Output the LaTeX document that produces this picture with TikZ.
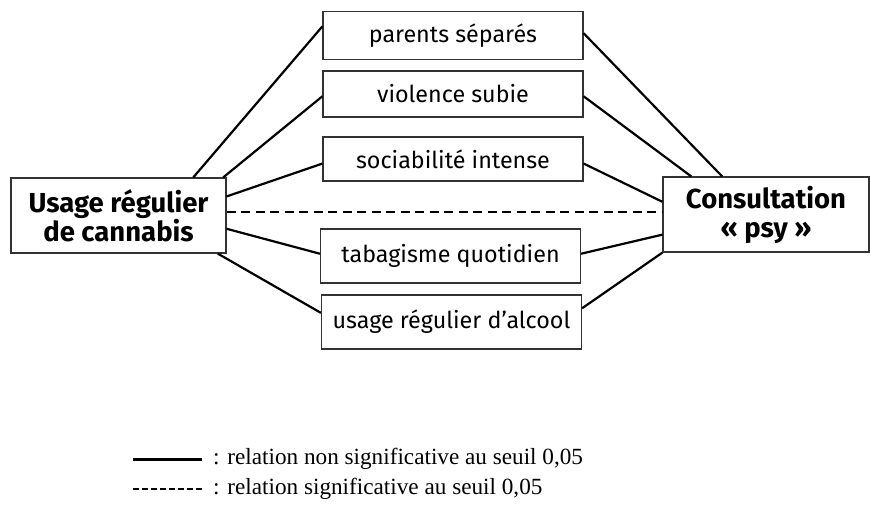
\documentclass[tikz,border=0pt]{standalone}
\usepackage{fontspec}
\setmainfont{Liberation Serif}
\setsansfont{Fira Sans}
\usetikzlibrary{positioning}

\tikzset{
  facteur/.style={draw=black!80, line width=1.2pt, minimum width=260pt,
    minimum height=48pt, inner sep=0pt, font=\sffamily\fontsize{23.3}{27}\selectfont},
  pole/.style={draw=black!80, line width=1.2pt, minimum height=75pt,
    inner sep=0pt, align=center, font=\sffamily\bfseries\fontsize{27.5}{29}\selectfont},
  lien/.style={line width=2.2pt},
  liensig/.style={line width=2.2pt, dash pattern=on 9pt off 5.5pt},
  legende/.style={inner sep=0pt, font=\fontsize{23.2}{26}\selectfont}
}

\begin{document}
\begin{tikzpicture}[x=1pt,y=-1pt]
  \useasboundingbox (0,0) rectangle (870,523);

  %--- the two poles ---
  \node[pole, minimum width=215pt] (cannabis) at (118.5,215.5) {Usage régulier\\de cannabis};
  \node[pole, minimum width=206pt] (psy)      at (766,214.5)   {Consultation\\«~psy~»};

  %--- intermediate factors ---
  \node[facteur]                     (parents)  at (453,35.5)  {parents séparés};
  \node[facteur, minimum height=46pt] (violence) at (453,94)    {violence subie};
  \node[facteur, minimum height=44pt] (sociab)   at (453,159)   {sociabilité intense};
  \node[facteur, minimum height=54pt] (tabac)    at (450.5,256) {tabagisme quotidien};
  \node[facteur, minimum height=54pt] (alcool)   at (451.5,322) {usage régulier d’alcool};

  %--- links, left side ---
  \draw[lien] (cannabis.27)  -- (parents.176);
  \draw[lien] (cannabis.20)  -- (violence.181);
  \draw[lien] (cannabis.10)  -- (sociab.182);
  \draw[lien] (cannabis.-7)  -- (tabac.179);
  \draw[lien] (cannabis.-21) -- (alcool.176);

  %--- links, right side ---
  \draw[lien] (parents.1.5) -- (psy.139);
  \draw[lien] (violence.-1) -- (psy.153);
  \draw[lien] (sociab.-2)   -- (psy.173);
  \draw[lien] (tabac.1)     -- (psy.191);
  \draw[lien] (alcool.6)    -- (psy.south west);

  % significant relation
  \draw[liensig] (cannabis.2) -- (cannabis.2 -| psy.west);

  %--- legend ---
  \coordinate (solA) at (133,459);
  \coordinate (solB) at (202,459);
  \coordinate (dasA) at (133,489);
  \coordinate (dasB) at (202,489);
  \draw[line width=3pt] (solA) -- (solB);
  \draw[line width=2.6pt, dash pattern=on 5.5pt off 3.5pt] (dasA) -- (dasB);
  \node[legende, right=11pt of solB] (txtsol) {: relation non significative au seuil 0,05};
  \node[legende, right=11pt of dasB] (txtdas) {: relation significative au seuil 0,05};
\end{tikzpicture}
\end{document}
